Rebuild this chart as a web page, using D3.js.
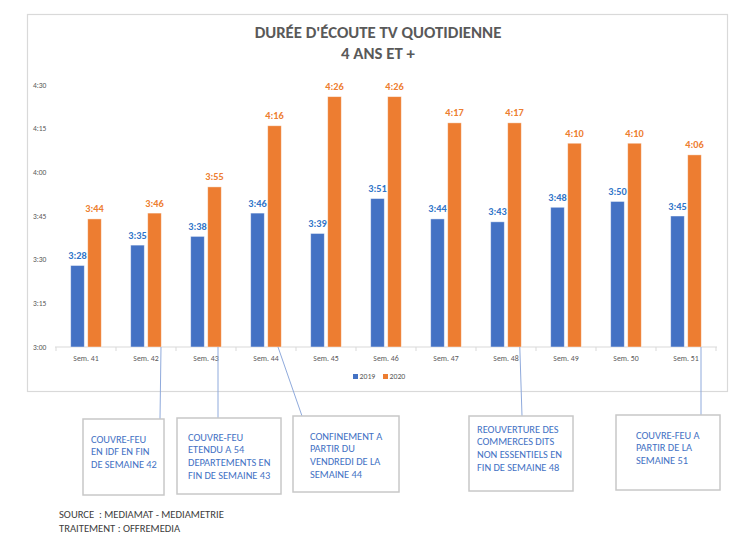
<!DOCTYPE html>
<html><head><meta charset="utf-8">
<script src="https://cdn.jsdelivr.net/npm/d3@7"></script>
<style>body{margin:0;background:#fff}svg{display:block}text{white-space:pre}</style>
</head><body>
<script>
// ---- data ----
const categories = ["Sem. 41","Sem. 42","Sem. 43","Sem. 44","Sem. 45","Sem. 46","Sem. 47","Sem. 48","Sem. 49","Sem. 50","Sem. 51"];
const seriesNames = ["2019","2020"];
// minutes of daily TV viewing (3:28 -> 208)
const values2019 = [208,215,218,226,219,231,224,223,228,230,225];
const values2020 = [224,226,235,256,266,266,257,257,250,250,246];
const tickValues = [180,195,210,225,240,255,270];
const tickLabels = ["3:00","3:15","3:30","3:45","4:00","4:15","4:30"];
const titleLines = ["DURÉE D'ÉCOUTE TV QUOTIDIENNE","4 ANS ET +"];
const noteTexts = [
  ["COUVRE-FEU","EN IDF EN FIN","DE SEMAINE 42"],
  ["COUVRE-FEU","ETENDU A 54","DEPARTEMENTS EN","FIN DE SEMAINE 43"],
  ["CONFINEMENT A","PARTIR DU","VENDREDI DE LA","SEMAINE 44"],
  ["REOUVERTURE DES","COMMERCES DITS","NON ESSENTIELS EN","FIN DE SEMAINE 48"],
  ["COUVRE-FEU A","PARTIR DE LA","SEMAINE 51"]
];
const noteWeeks = ["Sem. 42","Sem. 43","Sem. 44","Sem. 48","Sem. 51"];
const sourceLines = ["SOURCE  : MEDIAMAT - MEDIAMETRIE","TRAITEMENT : OFFREMEDIA"];

// ---- layout ----
const W = 750, H = 544;
const colors = {"2019":"#4472c4","2020":"#ed7d31"};
const labelColors = {"2019":"#2f74c8","2020":"#ed7d31"};
const svg = d3.select("body").append("svg").attr("width",W).attr("height",H);
const font = "Carlito, Lato, 'Open Sans', sans-serif";

// chart frame
svg.append("rect").attr("x",27.5).attr("y",14.5).attr("width",700).attr("height",377)
  .attr("fill","#fff").attr("stroke","#d9d9d9").attr("stroke-width",1.2);

// title
svg.selectAll("text.title").data(titleLines).join("text").attr("class","title")
  .attr("x",378).attr("y",(d,i)=>37.5+i*21).attr("text-anchor","middle")
  .attr("font-family",font).attr("font-weight","bold").attr("font-size",16.8)
  .attr("fill","#595959").text(d=>d);

const x0 = d3.scaleBand().domain(categories).range([56,716]);
const groupW = 30.6;
const x1 = d3.scaleBand().domain(seriesNames).range([0,groupW]).paddingInner(0.2);
const y = d3.scaleLinear().domain([180,270]).range([347,85]);
const gOff = (x0.bandwidth()-groupW)/2;

// y tick labels
svg.selectAll("text.yt").data(tickValues).join("text").attr("class","yt")
  .attr("x",33).attr("y",d=>y(d)+2.5).attr("font-family",font).attr("font-size",7.5)
  .attr("fill","#595959").text((d,i)=>tickLabels[i]);

// x axis
const xAxis = d3.axisBottom(x0).tickSize(0).tickPadding(8);
const gx = svg.append("g").attr("transform","translate(0,347)").call(xAxis);
gx.select(".domain").attr("stroke","#d9d9d9").attr("d","M55,0H717");
gx.selectAll("text").attr("font-family",font).attr("font-size",7.8).attr("fill","#595959");
// separator ticks
svg.append("g").selectAll("line").data(d3.range(categories.length+1)).join("line")
  .attr("x1",i=>56+i*x0.step()).attr("x2",i=>56+i*x0.step())
  .attr("y1",347).attr("y2",351).attr("stroke","#d9d9d9");

// bars
const rows = categories.map((c,i)=>({cat:c, vals:[{s:"2019",v:values2019[i]},{s:"2020",v:values2020[i]}]}));
const groups = svg.append("g").selectAll("g").data(rows).join("g")
  .attr("transform",d=>`translate(${x0(d.cat)+gOff},0)`);
groups.selectAll("rect").data(d=>d.vals).join("rect")
  .attr("x",d=>x1(d.s)).attr("width",x1.bandwidth())
  .attr("y",d=>y(d.v)).attr("height",d=>y(180)-y(d.v))
  .attr("fill",d=>colors[d.s]).attr("stroke","#ffffff").attr("stroke-opacity",0.55).attr("stroke-width",0.8);
const fmt = m => Math.floor(m/60)+":"+String(m%60).padStart(2,"0");
groups.selectAll("text").data(d=>d.vals).join("text")
  .attr("x",d=>x1(d.s)+x1.bandwidth()/2).attr("y",d=>y(d.v)-6.5)
  .attr("text-anchor","middle").attr("font-family",font).attr("font-weight","bold")
  .attr("font-size",10.3).attr("fill",d=>labelColors[d.s]).text(d=>fmt(d.v));

// legend
const leg = svg.append("g").selectAll("g").data(seriesNames).join("g")
  .attr("transform",(d,i)=>`translate(${353+i*30},374)`);
leg.append("rect").attr("width",5).attr("height",5).attr("fill",d=>colors[d]);
leg.append("text").attr("x",6.5).attr("y",5.2).attr("font-family",font).attr("font-size",7.8)
  .attr("fill","#595959").text(d=>d);

// annotations
const boxes = [
  {x:83,y:419,w:81,h:76,tx:91,ty:439,dx:0.75,ex:160},
  {x:177,y:418,w:104,h:76,tx:188,ty:437,dx:0.7,ex:218},
  {x:293,y:416,w:106,h:76,tx:310,ty:436,dx:0.7,ex:302},
  {x:469,y:416,w:104,h:75,tx:477,ty:429,dx:0.73,ex:522},
  {x:616,y:415,w:104,h:75,tx:636,ty:435,dx:0.75,ex:701}
];
boxes.forEach((b,i)=>{
  const ax = x0(noteWeeks[i]) + x0.bandwidth()*b.dx;
  svg.append("line").attr("x1",ax).attr("y1",347).attr("x2",b.ex).attr("y2",b.y)
    .attr("stroke","#8faadc").attr("stroke-width",1);
  svg.append("rect").attr("x",b.x).attr("y",b.y).attr("width",b.w).attr("height",b.h)
    .attr("fill","#fff").attr("stroke","#c8c8c8").attr("stroke-width",1.5);
  svg.append("g").selectAll("text").data(noteTexts[i]).join("text")
    .attr("x",b.tx).attr("y",(d,j)=>b.ty+3.7+j*12.6).attr("font-family",font)
    .attr("font-size",10.4).attr("fill","#4472c4").text(d=>d);
});

// source
svg.selectAll("text.src").data(sourceLines).join("text").attr("class","src")
  .attr("x",59).attr("y",(d,i)=>517.5+i*14).attr("font-family",font).attr("font-size",10.6)
  .attr("fill","#404040").text(d=>d);
</script>
</body></html>
